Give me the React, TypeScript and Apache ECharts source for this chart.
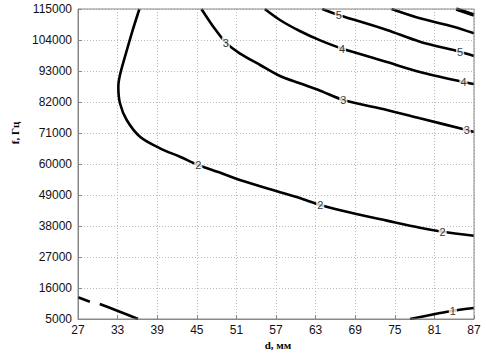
import React, { useEffect, useRef } from "react";
import * as echarts from "echarts";

// Axis ticks
const xTicks = [27, 33, 39, 45, 51, 57, 63, 69, 75, 81, 87];
const yTicks = [5000, 16000, 27000, 38000, 49000, 60000, 71000, 82000, 93000, 104000, 115000];

// Contour lines (d in mm, f in Hz)
const contour1a = [[27, 12700], [28.8, 11140]];
const contour1b = [[30.3, 10320], [32.95, 7950], [36.1, 5000]];
const contour1c = [[77.3, 5000], [81.1, 6770], [83.8, 7950], [87, 8900]];
const contour2 = [
  [36.3, 115000], [35.14, 106380], [34.12, 98080], [33.36, 91580], [33.11, 87430],
  [33.36, 81540], [34.38, 75610], [36.39, 69690], [39.42, 65570], [42.45, 62590],
  [45.23, 59650], [48.48, 56980], [51.52, 54320], [57.6, 50000], [60.6, 47900],
  [63.7, 45450], [68.7, 42500], [73.8, 39900], [78.8, 37400], [82.25, 35980], [87, 34560],
];
const contour3 = [
  [45.7, 115000], [47.5, 108720], [49.4, 103050], [51.5, 99280], [54.6, 95130],
  [57.6, 91230], [60.6, 88630], [63.7, 86000], [67.2, 82710], [73.8, 79160],
  [78.8, 76220], [85.9, 72060], [87, 71350],
];
const contour4 = [
  [55.3, 115000], [57.6, 111100], [60.6, 107190], [63.7, 103860], [67.0, 100950],
  [73.8, 96190], [78.8, 92650], [85.4, 89100], [87, 88390],
];
const contour5 = [
  [64.0, 115000], [66.5, 112870], [73.8, 107550], [78.8, 103400], [84.9, 99850], [87, 98320],
];
const contour6 = [[74.5, 115000], [78.8, 111700], [83.9, 108720], [87, 106370]];
const contour7 = [[84.3, 115000], [87, 112870]];

// Contour labels
const labelPoints = [
  [83.8, 7950], [45.23, 59650], [63.7, 45450], [82.25, 35980],
  [49.4, 103050], [67.2, 82710], [85.9, 72060],
  [67.0, 100950], [85.4, 89100],
  [66.5, 112870], [84.9, 99850],
];
const labelTexts = ["1", "2", "2", "2", "3", "3", "3", "4", "4", "5", "5"];

export default function App() {
  const ref = useRef<HTMLDivElement>(null);
  useEffect(() => {
    if (!ref.current) return;
    const chart = echarts.init(ref.current, null, { renderer: "svg" });
    const lineStyle = { color: "#000", width: 2.6 };
    const mkLine = (data: number[][]) => ({
      type: "line",
      data,
      showSymbol: false,
      symbol: "none",
      smooth: 0.3,
      lineStyle,
      z: 3,
      clip: true,
    });
    chart.setOption({
      animation: false,
      backgroundColor: "#fff",
      grid: { left: 78, right: 12, top: 9, bottom: 42, show: false },
      xAxis: {
        type: "value",
        min: xTicks[0],
        max: xTicks[xTicks.length - 1],
        interval: 6,
        axisLine: { show: true, onZero: false, lineStyle: { color: "#888", width: 1 } },
        axisTick: { show: true, inside: true, length: 4, lineStyle: { color: "#888" } },
        axisLabel: { color: "#111", fontFamily: "Liberation Sans, Arial", fontSize: 12, margin: 5, formatter: (v: number) => String(v) },
        splitLine: { show: true, lineStyle: { color: "#bbb", type: [1, 2], width: 1 } },
      },
      yAxis: {
        type: "value",
        min: yTicks[0],
        max: yTicks[yTicks.length - 1],
        interval: 11000,
        axisLine: { show: true, onZero: false, lineStyle: { color: "#888", width: 1 } },
        axisTick: { show: true, inside: true, length: 4, lineStyle: { color: "#888" } },
        axisLabel: { color: "#111", fontFamily: "Liberation Sans, Arial", fontSize: 12, margin: 6, formatter: (v: number) => String(v) },
        splitLine: { show: true, lineStyle: { color: "#bbb", type: [1, 2], width: 1 } },
      },
      graphic: [
        { type: "rect", shape: { x: 78, y: 9, width: 396, height: 310 }, style: { fill: "none", stroke: "#888", lineWidth: 1 }, z: 10, silent: true },
        { type: "text", x: 278, y: 345, style: { text: "d, мм", font: "bold 11px 'Liberation Serif', serif", fill: "#000", align: "center", verticalAlign: "middle" } },
        { type: "text", x: 15, y: 133, rotation: Math.PI / 2, style: { text: "f, Гц", font: "bold 11px 'Liberation Serif', serif", fill: "#000", align: "center", verticalAlign: "middle" } },
      ],
      series: [
        mkLine(contour1a),
        mkLine(contour1b),
        mkLine(contour1c),
        mkLine(contour2),
        mkLine(contour3),
        mkLine(contour4),
        mkLine(contour5),
        mkLine(contour6),
        { ...mkLine(contour7), lineStyle: { color: "#000", width: 3.5 } },
        {
          type: "scatter",
          data: labelPoints.map((p, i) => ({ value: p, name: labelTexts[i] })),
          symbolSize: 0,
          z: 5,
          label: {
            show: true,
            position: "inside",
            formatter: (p: any) => p.name,
            color: "#000",
            fontFamily: "Liberation Sans, Arial",
            fontSize: 11,
            backgroundColor: "#fff",
            padding: [0, 1],
          },
        },
      ],
    });
    return () => chart.dispose();
  }, []);
  return <div ref={ref} style={{ position: "fixed", left: 0, top: 0, width: 486, height: 361 }} />;
}
